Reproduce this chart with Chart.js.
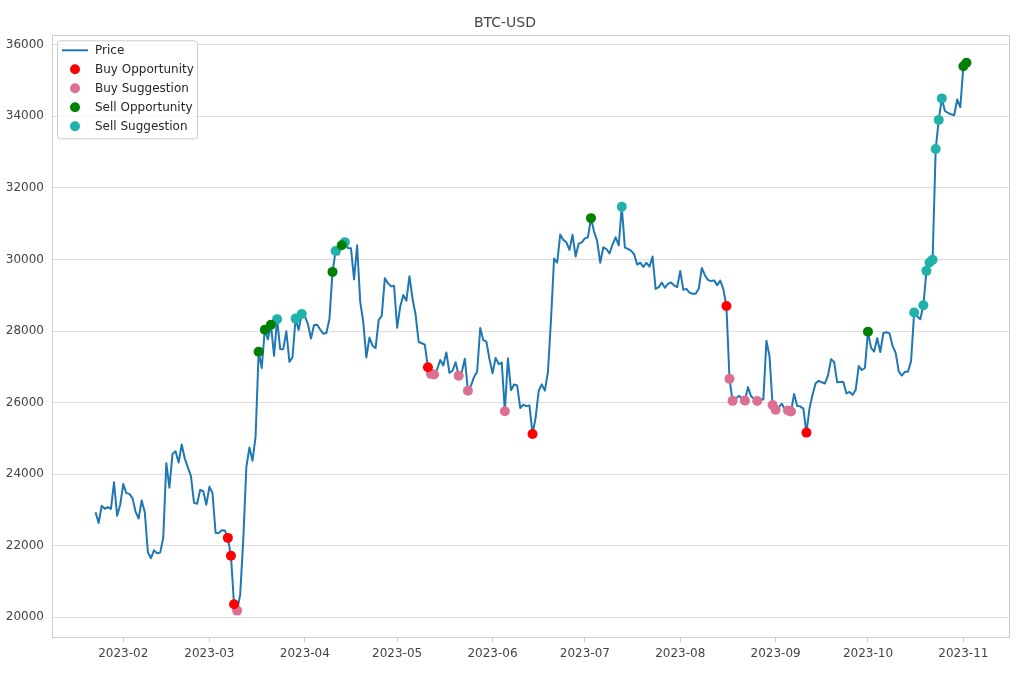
<!DOCTYPE html>
<html><head><meta charset="utf-8">
<script src="https://cdn.jsdelivr.net/npm/chart.js@4.4.0/dist/chart.umd.min.js"></script>
<style>html,body{margin:0;padding:0;background:#fff;}#wrap{width:1020px;height:680px;position:relative;}</style>
</head><body><div id="wrap"><canvas id="c" width="1020" height="680"></canvas></div>
<script>
// ---------- DATA ----------
const title = 'BTC-USD';
const startDate = '2023-01-23'; // first daily close in the series
const prices = [
  // Jan 23 - Jan 31
  22934,22636,23117,23033,23078,23031,23774,22840,23139,
  // Feb
  23723,23471,23449,23331,22955,22760,23264,22939,21819,21651,21870,21788,21808,22220,24307,23623,24565,24641,24327,24829,24436,24188,23947,23198,23175,23561,23522,23147,
  // Mar
  23646,23475,22362,22353,22435,22429,22219,21718,20363,20187,20633,22163,24197,24746,24375,25052,27423,26966,28038,27767,28175,27307,28333,27493,27494,27994,27139,27268,28348,28033,28478,
  // Apr
  28411,28199,27790,28168,28177,28044,27925,27947,28333,29653,30235,30139,30399,30485,30318,30315,29446,30397,28822,28246,27262,27817,27591,27525,28307,28422,29473,29340,29248,29268,
  // May
  28091,28680,29006,28847,29534,28904,28454,27695,27659,27621,26987,26804,26785,26931,27192,27037,27398,26832,26890,27129,26754,26851,27226,26334,26476,26719,26868,28085,27745,27702,27219,
  // Jun
  26819,27249,27075,27119,25760,27238,26345,26508,26480,25851,25940,25902,25918,25124,25576,26327,26510,26336,26851,28327,30027,29912,30695,30548,30480,30271,30689,30086,30445,30477,
  // Jul
  30590,30620,31156,30777,30514,29909,30342,30292,30171,30414,30621,30391,31476,30335,30295,30249,30146,29856,29913,29793,29909,29800,30083,29176,29228,29354,29210,29319,29357,29275,29230,
  // Aug
  29676,29152,29179,29074,29042,29041,29180,29765,29561,29429,29397,29416,29283,29408,29170,28701,26664,26049,26096,26189,26125,26056,26433,26180,26105,26044,26096,26089,27727,27298,25932,
  // Sep
  25800,25868,25969,25812,25780,25753,26240,25905,25895,25832,25162,25833,26228,26539,26608,26568,26534,26754,27211,27132,26567,26579,26579,26256,26298,26217,26352,27021,26911,26967,
  // Oct
  27983,27530,27429,27799,27415,27946,27968,27935,27584,27392,26873,26756,26862,26861,27159,28519,28415,28328,28719,29682,29918,29993,33086,33901,34502,34150,34100,34060,34030,34470,34260,
  // Nov 1 - Nov 2
  35400,35500
];
const buyOpportunity = ['2023-03-07','2023-03-08','2023-03-09','2023-05-11','2023-06-14','2023-08-16','2023-09-11'];
const buySuggestion = ['2023-03-10','2023-05-12','2023-05-13','2023-05-21','2023-05-24','2023-06-05','2023-08-17','2023-08-18','2023-08-22','2023-08-26','2023-08-31','2023-09-01','2023-09-05','2023-09-06'];
const sellOpportunity = ['2023-03-17','2023-03-19','2023-03-21','2023-04-10','2023-04-13','2023-07-03','2023-10-01','2023-11-01','2023-11-02'];
const sellSuggestion = ['2023-03-23','2023-03-29','2023-03-31','2023-04-11','2023-04-14','2023-07-13','2023-10-16','2023-10-19','2023-10-20','2023-10-21','2023-10-22','2023-10-23','2023-10-24','2023-10-25'];
const xTickDates = ['2023-02-01','2023-03-01','2023-04-01','2023-05-01','2023-06-01','2023-07-01','2023-08-01','2023-09-01','2023-10-01','2023-11-01'];
const xTickLabels = ['2023-02','2023-03','2023-04','2023-05','2023-06','2023-07','2023-08','2023-09','2023-10','2023-11'];
const yTicks = [20000,22000,24000,26000,28000,30000,32000,34000,36000];

// ---------- HELPERS ----------
function dayNum(s){const [y,m,d]=s.split('-').map(Number);return (Date.UTC(y,m-1,d)-Date.UTC(2023,0,1))/86400000;}
const day0 = dayNum(startDate);
const priceData = prices.map((p,i)=>({x:day0+i,y:p}));
function sig(dates){return dates.map(s=>{const d=dayNum(s);return {x:d,y:prices[d-day0]};});}

const xFirst = day0, xLast = day0 + prices.length - 1;
const xPad = (xLast-xFirst)*0.05;
const yMinD = Math.min(...prices), yMaxD = Math.max(...prices);
const yPad = (yMaxD-yMinD)*0.05;

const FONT = "'DejaVu Sans', sans-serif";
const TXT = '#262626';
const AXT = '#444444';

const framePlugin = {
  id:'frame',
  afterDraw(chart){
    const {ctx, chartArea:a} = chart;
    ctx.save();
    ctx.strokeStyle = '#cccccc'; ctx.lineWidth = 1;
    ctx.strokeRect(Math.round(a.left)+0.5, Math.round(a.top)+0.5, Math.round(a.right-a.left)-1, Math.round(a.bottom-a.top)-1);
    // legend
    const x0 = a.left + 5, y0 = a.top + 5, w = 140, h = 98;
    ctx.beginPath();
    ctx.roundRect(x0+0.5, y0+0.5, w, h, 3);
    ctx.fillStyle = 'rgba(255,255,255,0.8)'; ctx.fill();
    ctx.strokeStyle = '#cccccc'; ctx.stroke();
    ctx.font = '12px ' + FONT; ctx.textBaseline = 'middle'; ctx.fillStyle = TXT;
    chart.data.datasets.forEach((ds,i)=>{
      const cy = y0 + 10 + i*19;
      if (ds.showLine === false) {
        ctx.beginPath(); ctx.arc(x0+18, cy, ds.pointRadius, 0, Math.PI*2);
        ctx.fillStyle = ds.pointBackgroundColor; ctx.fill();
      } else {
        ctx.beginPath(); ctx.moveTo(x0+5, cy); ctx.lineTo(x0+31, cy);
        ctx.strokeStyle = ds.borderColor; ctx.lineWidth = 2; ctx.stroke();
      }
      ctx.fillStyle = TXT;
      ctx.fillText(ds.label, x0+38, cy+1);
    });
    ctx.restore();
  }
};

function scatterDs(label, data, color){
  return {label, data, showLine:false, pointRadius:5, pointHoverRadius:5, pointBorderWidth:0,
    pointBackgroundColor:color, borderColor:color, backgroundColor:color, order:0};
}

new Chart(document.getElementById('c'), {
  type:'line',
  data:{datasets:[
    {label:'Price', data:priceData, borderColor:'#1f77b4', borderWidth:2, pointRadius:0, tension:0, borderJoinStyle:'round', order:1},
    scatterDs('Buy Opportunity', sig(buyOpportunity), '#ff0000'),
    scatterDs('Buy Suggestion', sig(buySuggestion), '#db7093'),
    scatterDs('Sell Opportunity', sig(sellOpportunity), '#008000'),
    scatterDs('Sell Suggestion', sig(sellSuggestion), '#20b2aa')
  ]},
  options:{
    responsive:false, animation:false, devicePixelRatio:1,
    layout:{padding:{left:0,right:10,top:0,bottom:0}},
    plugins:{
      legend:{display:false}, tooltip:{enabled:false},
      title:{display:true, text:title, color:AXT, font:{family:FONT,size:14,weight:'normal'}, padding:{top:15,bottom:3.5}}
    },
    scales:{
      x:{type:'linear', min:xFirst-xPad, max:xLast+xPad,
        afterBuildTicks:s=>{s.ticks = xTickDates.map(d=>({value:dayNum(d)}));},
        ticks:{autoSkip:false, maxRotation:0, color:AXT, font:{family:FONT,size:12}, padding:5,
          callback:(v)=>{const i = xTickDates.findIndex(d=>dayNum(d)===v); return i>=0?xTickLabels[i]:'';}},
        grid:{drawOnChartArea:false, drawTicks:true, tickLength:4, color:'#cccccc'},
        border:{display:false},
        afterFit:s=>{s.height = 42;}
      },
      y:{type:'linear', min:yMinD-yPad, max:yMaxD+yPad,
        afterBuildTicks:s=>{s.ticks = yTicks.map(v=>({value:v}));},
        ticks:{color:AXT, font:{family:FONT,size:12}, padding:8, callback:v=>String(v)},
        grid:{color:'#dddddd', drawTicks:false, lineWidth:1},
        border:{display:false},
        afterFit:s=>{s.width = 52;}
      }
    }
  },
  plugins:[framePlugin]
});
</script></body></html>
